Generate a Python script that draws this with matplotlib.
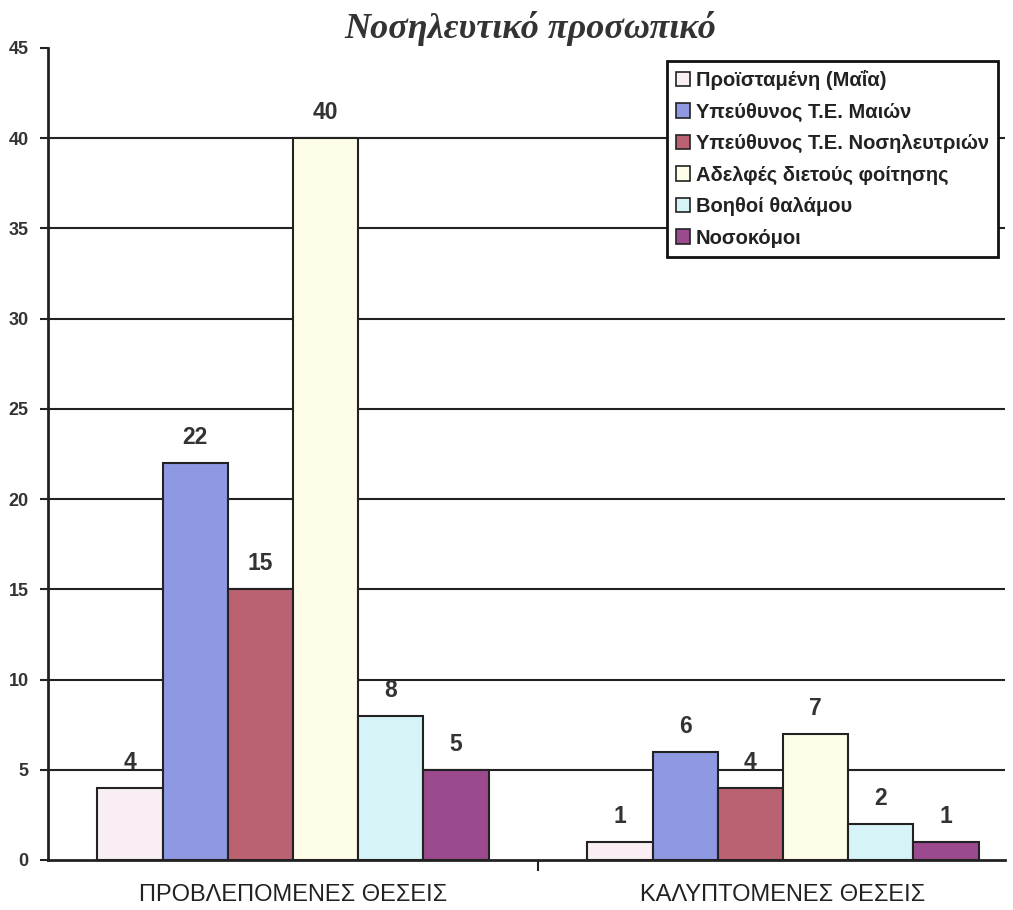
import matplotlib.pyplot as plt
import numpy as np
from matplotlib.patches import Patch

# Δεδομένα
categories = ["ΠΡΟΒΛΕΠΟΜΕΝΕΣ ΘΕΣΕΙΣ", "ΚΑΛΥΠΤΟΜΕΝΕΣ ΘΕΣΕΙΣ"]
series_names = ["Προϊσταμένη (Μαΐα)", "Υπεύθυνος Τ.Ε. Μαιών",
                "Υπεύθυνος Τ.Ε. Νοσηλευτριών", "Αδελφές διετούς φοίτησης",
                "Βοηθοί θαλάμου", "Νοσοκόμοι"]
values = [
    [4, 1],
    [22, 6],
    [15, 4],
    [40, 7],
    [8, 2],
    [5, 1],
]
colors = ["#f8eef4", "#8e99e2", "#bb6272", "#fdfde8", "#d6f3f7", "#9b4a8e"]
yticks = [0, 5, 10, 15, 20, 25, 30, 35, 40, 45]

plt.rcParams['font.family'] = ['Liberation Sans', 'DejaVu Sans']

fig = plt.figure(figsize=(10.13, 9.10), dpi=100)
ax = fig.add_axes([48 / 1013, 50 / 910, 957 / 1013, 812 / 910])

x = np.arange(len(categories))
width = 0.133
n = len(series_names)
for i, (name, vals, col) in enumerate(zip(series_names, values, colors)):
    pos = x + (i - (n - 1) / 2) * width
    bars = ax.bar(pos, vals, width, color=col, edgecolor="#222222",
                  linewidth=1.5, label=name, zorder=3)
    for b, v in zip(bars, vals):
        ax.annotate(str(v), (b.get_x() + b.get_width() / 2, v),
                    xytext=(0, 10), textcoords="offset points",
                    ha="center", va="bottom", fontsize=16.5,
                    fontweight="bold", color="#333333")

ax.set_ylim(0, 45)
ax.set_xlim(-0.5, -0.5 + 957 / 490)
ax.set_yticks(yticks)
ax.set_yticklabels([str(t) for t in yticks], fontsize=13, fontweight="bold",
                   color="#333333")
ax.set_xticks(x)
ax.set_xticklabels(categories, fontsize=17, color="#222222")
ax.tick_params(axis="x", length=0, pad=17)
ax.set_xticks([0.5], minor=True)
ax.tick_params(axis="x", which="minor", length=8, width=1.5, color="#222222")
ax.tick_params(axis="y", length=6, width=1.5, color="#222222", pad=8)

# gridlines at 5..40 only (no line across the top at 45)
for t in yticks[1:-1]:
    ax.axhline(t, color="#222222", linewidth=1.5, zorder=0)
for s in ["top", "right"]:
    ax.spines[s].set_visible(False)
for s in ["left", "bottom"]:
    ax.spines[s].set_linewidth(2)
    ax.spines[s].set_color("#222222")

fig.text(530 / 1013, 1 - 29 / 910, "Νοσηλευτικό προσωπικό",
         family=["Liberation Serif", "DejaVu Serif"], style="italic",
         fontweight="bold", fontsize=26, color="#333333",
         ha="center", va="center")

handles = [Patch(facecolor=c, edgecolor="#222222", linewidth=1.2) for c in colors]
leg = fig.legend(handles, series_names, loc="upper right",
                 bbox_to_anchor=(998 / 1013, 1 - 61 / 910),
                 prop={"weight": "bold", "size": 14.5},
                 frameon=True, fancybox=False, edgecolor="#111111",
                 framealpha=1,
                 handlelength=0.7, handleheight=0.7, handletextpad=0.3,
                 labelspacing=0.62, borderpad=0.45, borderaxespad=0,
                 labelcolor="#222222")
leg.get_frame().set_linewidth(2)

fig.savefig("out.png", dpi=100, facecolor="white")
